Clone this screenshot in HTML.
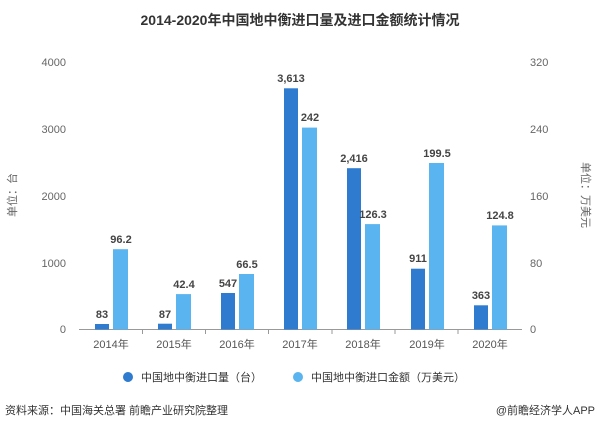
<!DOCTYPE html>
<html><head><meta charset="utf-8"><style>
body{margin:0;background:#fff;}
svg text{font-family:"Liberation Sans","Noto Sans CJK SC",sans-serif;}
</style></head><body>
<svg width="600" height="431" xmlns="http://www.w3.org/2000/svg">
<rect width="600" height="431" fill="#fff"/>
<text x="300" y="25" text-anchor="middle" font-size="14" font-weight="bold" fill="#333">2014-2020年中国地中衡进口量及进口金额统计情况</text>
<g font-size="11" fill="#666">
<text x="66" y="66" text-anchor="end">4000</text>
<text x="66" y="133" text-anchor="end">3000</text>
<text x="66" y="200" text-anchor="end">2000</text>
<text x="66" y="267" text-anchor="end">1000</text>
<text x="66" y="333" text-anchor="end">0</text>
<text x="530" y="66">320</text>
<text x="530" y="133">240</text>
<text x="530" y="200">160</text>
<text x="530" y="267">80</text>
<text x="530" y="333">0</text>
<text transform="translate(16,195) rotate(-90)" text-anchor="middle">单位：台</text>
<text transform="translate(582,195) rotate(90)" text-anchor="middle">单位：万美元</text>
</g>
<line x1="79" y1="329.5" x2="522" y2="329.5" stroke="#999" stroke-width="1"/>
<g stroke="#999">
<line x1="142.5" y1="329.5" x2="142.5" y2="334"/><line x1="205.5" y1="329.5" x2="205.5" y2="334"/><line x1="268.5" y1="329.5" x2="268.5" y2="334"/><line x1="332" y1="329.5" x2="332" y2="334"/><line x1="395" y1="329.5" x2="395" y2="334"/><line x1="458" y1="329.5" x2="458" y2="334"/>
</g>
<g id="bars">
<!-- centers: 111,174,237,300,363,427,490 -->
<rect x="95" y="324" width="14" height="5.5" fill="#2e7bd0"/>
<rect x="113" y="249.2" width="15" height="80.3" fill="#5ab4f0"/>
<rect x="158" y="323.7" width="14" height="5.8" fill="#2e7bd0"/>
<rect x="176" y="294.1" width="15" height="35.4" fill="#5ab4f0"/>
<rect x="221" y="293" width="14" height="36.5" fill="#2e7bd0"/>
<rect x="239" y="274" width="15" height="55.5" fill="#5ab4f0"/>
<rect x="284" y="88.3" width="14" height="241.2" fill="#2e7bd0"/>
<rect x="302" y="127.6" width="15" height="201.9" fill="#5ab4f0"/>
<rect x="347" y="168.2" width="14" height="161.3" fill="#2e7bd0"/>
<rect x="365" y="224.1" width="15" height="105.4" fill="#5ab4f0"/>
<rect x="411" y="268.7" width="14" height="60.8" fill="#2e7bd0"/>
<rect x="429" y="163" width="15" height="166.5" fill="#5ab4f0"/>
<rect x="474" y="305.3" width="14" height="24.2" fill="#2e7bd0"/>
<rect x="492" y="225.4" width="15" height="104.1" fill="#5ab4f0"/>
</g>
<g font-size="11" font-weight="bold" fill="#444" text-anchor="middle">
<text x="102" y="318">83</text><text x="121" y="243">96.2</text>
<text x="165" y="318">87</text><text x="184" y="288">42.4</text>
<text x="228" y="287">547</text><text x="247" y="268">66.5</text>
<text x="291" y="82">3,613</text><text x="310" y="121">242</text>
<text x="354" y="162">2,416</text><text x="373" y="218">126.3</text>
<text x="418" y="262">911</text><text x="437" y="157">199.5</text>
<text x="481" y="299">363</text><text x="500" y="219">124.8</text>
</g>
<g font-size="11" fill="#555" text-anchor="middle">
<text x="111" y="348">2014年</text><text x="174" y="348">2015年</text><text x="237" y="348">2016年</text><text x="300" y="348">2017年</text><text x="363" y="348">2018年</text><text x="427" y="348">2019年</text><text x="490" y="348">2020年</text>
</g>
<circle cx="128" cy="377" r="5" fill="#2e7bd0"/>
<text x="141" y="381" font-size="11" fill="#333">中国地中衡进口量（台）</text>
<circle cx="298" cy="377" r="5" fill="#5ab4f0"/>
<text x="311" y="381" font-size="11" fill="#333">中国地中衡进口金额（万美元）</text>
<text x="5" y="414" font-size="11" fill="#333">资料来源：中国海关总署 前瞻产业研究院整理</text>
<text x="595" y="414" font-size="11" fill="#333" text-anchor="end">@前瞻经济学人APP</text>
</svg>
</body></html>
